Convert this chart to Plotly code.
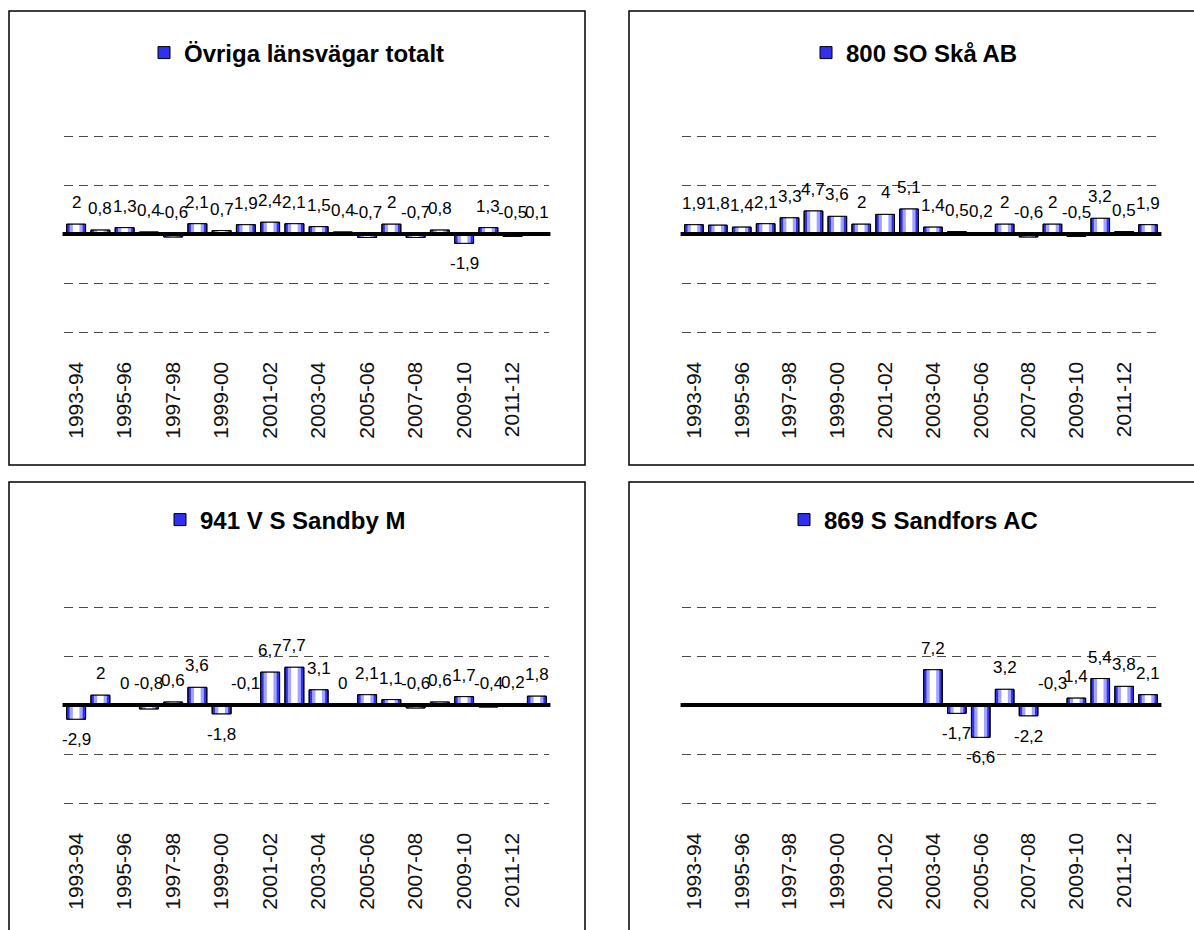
import plotly.graph_objects as go

# ---------------- data ----------------
categories = ["1993-94", "1994-95", "1995-96", "1996-97", "1997-98", "1998-99",
              "1999-00", "2000-01", "2001-02", "2002-03", "2003-04", "2004-05",
              "2005-06", "2006-07", "2007-08", "2008-09", "2009-10", "2010-11",
              "2011-12", "2012-13"]
tick_labels = ["1993-94", "1995-96", "1997-98", "1999-00", "2001-02",
               "2003-04", "2005-06", "2007-08", "2009-10", "2011-12"]

series_names = ["Övriga länsvägar totalt", "800 SO Skå AB",
                "941 V S Sandby M", "869 S Sandfors AC"]

ovriga_totalt = [2, 0.8, 1.3, 0.4, -0.6, 2.1, 0.7, 1.9, 2.4, 2.1,
                 1.5, 0.4, -0.7, 2, -0.7, 0.8, -1.9, 1.3, -0.5, 0.1]
so_ska_ab = [1.9, 1.8, 1.4, 2.1, 3.3, 4.7, 3.6, 2, 4, 5.1,
             1.4, 0.5, 0.2, 2, -0.6, 2, -0.5, 3.2, 0.5, 1.9]
v_s_sandby_m = [-2.9, 2, 0, -0.8, 0.6, 3.6, -1.8, -0.1, 6.7, 7.7,
                3.1, 0, 2.1, 1.1, -0.6, 0.6, 1.7, -0.4, 0.2, 1.8]
s_sandfors_ac = [None, None, None, None, None, None, None, None, None, None,
                 7.2, -1.7, -6.6, 3.2, -2.2, -0.3, 1.4, 5.4, 3.8, 2.1]

series_values = [ovriga_totalt, so_ska_ab, v_s_sandby_m, s_sandfors_ac]

# ---------------- layout geometry (pixels) ----------------
W, H = 1194, 930
FONT = "Liberation Sans, Arial, sans-serif"
TICKFONT = "Liberation Sans, Arial, sans-serif"

panels = [
    dict(x0=64, x1=549, zero=234, leg_x=144, leg_y=53),
    dict(x0=682, x1=1160, zero=234, leg_x=806, leg_y=53),
    dict(x0=64, x1=549, zero=705, leg_x=160, leg_y=520),
    dict(x0=682, x1=1160, zero=705, leg_x=784, leg_y=520),
]
PX_PER_UNIT = 4.9
Y_MAX, Y_MIN = 20.5, -25

def fx(p):
    return p / W

def fy(p):
    return 1 - p / H

def fmt(v):
    return f"{v:g}".replace(".", ",")

fig = go.Figure()
shapes = []
annotations = []
layout_extra = {}

for i, (name, vals, pn) in enumerate(zip(series_names, series_values, panels), start=1):
    sfx = "" if i == 1 else str(i)
    xa, ya = "x" + sfx, "y" + sfx
    leg = "legend" + sfx

    top_px = pn["zero"] - Y_MAX * PX_PER_UNIT
    bot_px = pn["zero"] - Y_MIN * PX_PER_UNIT

    common = dict(x=categories, y=vals, xaxis=xa, yaxis=ya, hoverinfo="skip")
    fig.add_trace(go.Bar(name="<b>" + name + "</b>", legend=leg, showlegend=True,
                         width=0.78, marker=dict(color="#3030f0",
                                                 line=dict(color="black", width=1)),
                         **common))
    fig.add_trace(go.Bar(showlegend=False, width=0.54,
                         marker=dict(color="#a4a4ff", line=dict(width=0)), **common))
    fig.add_trace(go.Bar(showlegend=False, width=0.27,
                         marker=dict(color="#ffffff", line=dict(width=0)), **common))
    fig.add_trace(go.Bar(showlegend=False, width=0.78,
                         marker=dict(color="rgba(0,0,0,0)",
                                     line=dict(color="black", width=1)), **common))

    layout_extra["xaxis" + sfx] = dict(
        domain=[fx(pn["x0"]), fx(pn["x1"])], anchor=ya,
        type="category", categoryorder="array", categoryarray=categories,
        range=[-0.5, len(categories) - 0.5],
        tickmode="array", tickvals=tick_labels, ticktext=tick_labels,
        tickangle=-90, tickfont=dict(family=TICKFONT, size=21, color="#111111"),
        showgrid=False, zeroline=False, showline=False, ticks="", ticklen=0,
        fixedrange=True,
    )
    layout_extra["yaxis" + sfx] = dict(
        domain=[fy(bot_px), fy(top_px)], anchor=xa,
        range=[Y_MIN, Y_MAX], dtick=10, tick0=0,
        showticklabels=False, showgrid=True, gridcolor="#4a4a4a", gridwidth=1,
        griddash="9px,6px", zeroline=False, showline=False, fixedrange=True,
    )
    layout_extra[leg] = dict(
        x=fx(pn["leg_x"]), y=fy(pn["leg_y"]), xanchor="left", yanchor="middle",
        orientation="h", bgcolor="rgba(0,0,0,0)", borderwidth=0,
        font=dict(family=FONT, size=24, color="black"), itemclick=False,
    )

    shapes.append(dict(type="line", xref=xa + " domain", yref=ya,
                       x0=-0.003, x1=1.003, y0=0, y1=0, layer="above",
                       line=dict(color="black", width=4)))

    for c, v in zip(categories, vals):
        if v is None:
            continue
        below = v <= -1
        annotations.append(dict(
            xref=xa, yref=ya, x=c, y=(v if below else max(v, 0)),
            text=fmt(v), showarrow=False,
            yanchor="top" if below else "bottom",
            yshift=-9 if below else 10,
            font=dict(family=FONT, size=17, color="black"),
        ))

frames = [(9, 11, 585, 465), (629, 11, 1200, 465),
          (9, 482, 585, 940), (629, 482, 1200, 940)]
for (x0, y0, x1, y1) in frames:
    shapes.append(dict(type="rect", xref="paper", yref="paper",
                       x0=fx(x0), x1=fx(x1), y0=fy(y1), y1=fy(y0),
                       line=dict(color="black", width=1.5), fillcolor="rgba(0,0,0,0)",
                       layer="below"))

fig.update_layout(
    width=W, height=H, autosize=False,
    margin=dict(l=0, r=0, t=0, b=0, pad=0),
    paper_bgcolor="white", plot_bgcolor="white",
    barmode="overlay", showlegend=True,
    font=dict(family=FONT, color="black"),
    shapes=shapes, annotations=annotations,
    **layout_extra,
)

fig.write_html("out.html", include_plotlyjs=True,
               config={"displayModeBar": False},
               post_script="document.body.style.margin='0';document.body.style.overflow='hidden';")
